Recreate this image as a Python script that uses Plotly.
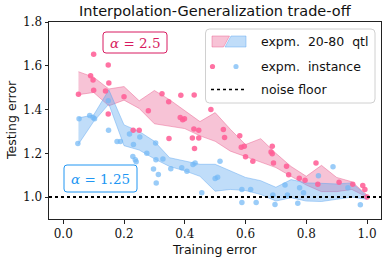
import plotly.graph_objects as go

# ---------------- data ----------------
BAND_X = [0.05, 0.10, 0.15, 0.20, 0.25, 0.30, 0.35, 0.40, 0.45, 0.50,
          0.55, 0.60, 0.65, 0.70, 0.75, 0.80, 0.85, 0.90, 0.95, 1.00]
PINK_UP = [1.573, 1.548, 1.494, 1.505, 1.440, 1.487, 1.445, 1.395, 1.345, 1.386,
           1.310, 1.240, 1.267, 1.200, 1.140, 1.095, 1.145, 1.090, 1.070, 1.010]
PINK_LO = [1.468, 1.478, 1.417, 1.443, 1.405, 1.335, 1.323, 1.313, 1.280, 1.255,
           1.210, 1.185, 1.160, 1.135, 1.095, 1.055, 1.025, 1.025, 1.035, 1.000]
BLUE_UP = [1.362, 1.375, 1.490, 1.330, 1.300, 1.255, 1.180, 1.165, 1.150, 1.150,
           1.120, 1.090, 1.075, 1.045, 1.080, 1.065, 1.063, 1.060, 1.065, 1.005]
BLUE_LO = [1.242, 1.345, 1.425, 1.235, 1.215, 1.175, 1.140, 1.120, 1.095, 1.027,
           1.035, 1.030, 1.012, 0.982, 0.997, 0.982, 0.980, 0.990, 1.000, 0.990]

PINK_X = [0.05, 0.09, 0.098, 0.10, 0.10, 0.139, 0.148, 0.15, 0.148, 0.20, 0.23, 0.25,
          0.28, 0.325, 0.347, 0.348, 0.385, 0.393, 0.399, 0.387, 0.431, 0.43, 0.446,
          0.425, 0.446, 0.432, 0.486, 0.527, 0.531, 0.581, 0.586, 0.596, 0.60, 0.624,
          0.688, 0.684, 0.688, 0.692, 0.735, 0.742, 0.777, 0.796, 0.832, 0.838, 0.908,
          0.953, 0.986, 0.993, 1.0]
PINK_Y = [1.47, 1.555, 1.535, 1.653, 1.488, 1.485, 1.603, 1.521, 1.38, 1.458, 1.305,
          1.305, 1.394, 1.472, 1.436, 1.268, 1.364, 1.353, 1.358, 1.465, 1.467, 1.311,
          1.305, 1.270, 1.27, 1.222, 1.40, 1.309, 1.272, 1.28, 1.228, 1.232, 1.184,
          1.164, 1.232, 1.206, 1.198, 1.156, 1.141, 1.102, 1.086, 1.077, 1.156, 1.059,
          1.068, 1.059, 1.053, 1.035, 1.0]
BLUE_X = [0.048, 0.052, 0.087, 0.098, 0.103, 0.148, 0.149, 0.177, 0.188, 0.218, 0.229,
          0.237, 0.24, 0.231, 0.252, 0.275, 0.304, 0.305, 0.297, 0.313, 0.306, 0.328,
          0.354, 0.39, 0.407, 0.427, 0.434, 0.456, 0.50, 0.508, 0.516, 0.588, 0.617,
          0.588, 0.635, 0.69, 0.697, 0.73, 0.738, 0.772, 0.778, 0.791, 0.84, 0.888,
          0.937, 0.978]
BLUE_Y = [1.245, 1.358, 1.373, 1.364, 1.358, 1.44, 1.305, 1.254, 1.254, 1.288, 1.186,
          1.171, 1.161, 1.24, 1.275, 1.2, 1.247, 1.171, 1.128, 1.103, 1.065, 1.174,
          1.129, 1.134, 1.118, 1.149, 1.156, 1.02, 1.085, 1.091, 1.164, 1.035, 1.035,
          0.975, 0.975, 1.01, 0.966, 1.055, 1.01, 0.972, 1.043, 1.02, 1.098, 1.139,
          1.043, 0.965]
NOISE_FLOOR = 1.0

X_TICKS = [0.0, 0.2, 0.4, 0.6, 0.8, 1.0]
X_TICK_TEXT = ["0.0", "0.2", "0.4", "0.6", "0.8", "1.0"]
Y_TICKS = [1.0, 1.2, 1.4, 1.6, 1.8]
Y_TICK_TEXT = ["1.0", "1.2", "1.4", "1.6", "1.8"]

TITLE = "Interpolation-Generalization trade-off"
X_LABEL = "Training error"
Y_LABEL = "Testing error"
LEG_LABELS = ["expm.  20-80  qtl", "expm.  instance", "noise floor"]

# ---------------- styles ----------------
PINK_FILL = "rgba(232,90,140,0.36)"
PINK_EDGE = "rgba(232,90,140,0.45)"
BLUE_FILL = "rgba(90,165,240,0.38)"
BLUE_EDGE = "rgba(90,165,240,0.45)"
PINK_DOT = "rgba(255,95,150,0.88)"
BLUE_DOT = "rgba(115,185,245,0.72)"
PINK_TXT = "#d81b60"
BLUE_TXT = "#2196f3"
SANS = "DejaVu Sans"
SERIF = "DejaVu Serif"

W, H = 383, 263
L, R, T, B = 49, 381, 22, 219  # plot area in pixels


def px(x):
    return (x - L) / (R - L)


def py(y):
    return (B - y) / (B - T)


fig = go.Figure()

# quantile bands
fig.add_trace(go.Scatter(x=BAND_X + BAND_X[::-1], y=PINK_UP + PINK_LO[::-1],
                         fill="toself", fillcolor=PINK_FILL, mode="lines",
                         line=dict(color=PINK_EDGE, width=1), showlegend=False,
                         hoverinfo="skip"))
fig.add_trace(go.Scatter(x=BAND_X + BAND_X[::-1], y=BLUE_UP + BLUE_LO[::-1],
                         fill="toself", fillcolor=BLUE_FILL, mode="lines",
                         line=dict(color=BLUE_EDGE, width=1), showlegend=False,
                         hoverinfo="skip"))
# instances
fig.add_trace(go.Scatter(x=PINK_X, y=PINK_Y, mode="markers",
                         marker=dict(color=PINK_DOT, size=5.5, line=dict(width=0)),
                         showlegend=False))
fig.add_trace(go.Scatter(x=BLUE_X, y=BLUE_Y, mode="markers",
                         marker=dict(color=BLUE_DOT, size=5.5, line=dict(width=0)),
                         showlegend=False))

shapes = []
annotations = []

# noise floor
shapes.append(dict(type="line", xref="paper", x0=0, x1=1, yref="y",
                   y0=NOISE_FLOOR, y1=NOISE_FLOOR,
                   line=dict(color="black", width=2, dash="dot")))


def rounded_rect(x0, y0, x1, y1, r, **kw):
    # pixel coords -> paper path
    rx = r / (R - L)
    ry = r / (B - T)
    a, b, c, d = px(x0), py(y1), px(x1), py(y0)  # left, bottom, right, top
    path = (f"M {a+rx},{b} L {c-rx},{b} Q {c},{b} {c},{b+ry} "
            f"L {c},{d-ry} Q {c},{d} {c-rx},{d} L {a+rx},{d} "
            f"Q {a},{d} {a},{d-ry} L {a},{b+ry} Q {a},{b} {a+rx},{b} Z")
    return dict(type="path", xref="paper", yref="paper", path=path, **kw)


def poly(pts, **kw):
    path = "M " + " L ".join(f"{px(x)},{py(y)}" for x, y in pts) + " Z"
    return dict(type="path", xref="paper", yref="paper", path=path, **kw)


# legend box
shapes.append(rounded_rect(205.5, 29, 375, 103, 4, fillcolor="rgba(255,255,255,0.85)",
                           line=dict(color="#d0d0d0", width=1), layer="above"))
shapes.append(poly([(212, 36), (229.5, 36), (223.5, 47), (212, 47)],
                   fillcolor=PINK_FILL, line=dict(color=PINK_EDGE, width=1), layer="above"))
shapes.append(poly([(231, 36), (246, 36), (246, 47), (225, 47)],
                   fillcolor=BLUE_FILL, line=dict(color=BLUE_EDGE, width=1), layer="above"))
for cx, col in [(212.5, PINK_DOT), (236, BLUE_DOT)]:
    shapes.append(dict(type="circle", xref="paper", yref="paper",
                       x0=px(cx - 2.6), x1=px(cx + 2.6), y0=py(66.5 + 2.6), y1=py(66.5 - 2.6),
                       fillcolor=col, line=dict(width=0), layer="above"))
shapes.append(dict(type="line", xref="paper", yref="paper", x0=px(211), x1=px(246),
                   y0=py(89.5), y1=py(89.5), line=dict(color="black", width=1.5, dash="dot"),
                   layer="above"))
for txt, yy in zip(LEG_LABELS, [42, 66, 89]):
    annotations.append(dict(text=txt, xref="paper", yref="paper", x=px(258.5), y=py(yy),
                            xanchor="left", yanchor="middle", showarrow=False,
                            font=dict(family=SANS, size=12.5, color="#111")))

# alpha boxes
shapes.append(rounded_rect(103, 32, 167, 53, 3, fillcolor="white",
                           line=dict(color=PINK_TXT, width=1), layer="above"))
annotations.append(dict(text="<i>α</i> = 2.5", xref="paper", yref="paper",
                        x=px(135), y=py(42.5), xanchor="center", yanchor="middle",
                        showarrow=False, font=dict(family=SERIF, size=13.5, color=PINK_TXT)))
shapes.append(rounded_rect(64, 165, 137, 192, 3, fillcolor="white",
                           line=dict(color=BLUE_TXT, width=1), layer="above"))
annotations.append(dict(text="<i>α</i> = 1.25", xref="paper", yref="paper",
                        x=px(100.5), y=py(178.5), xanchor="center", yanchor="middle",
                        showarrow=False, font=dict(family=SERIF, size=13.5, color=BLUE_TXT)))

# axis labels & title
annotations.append(dict(text=TITLE, xref="paper", yref="paper", x=px(215), y=py(11),
                        xanchor="center", yanchor="middle", showarrow=False,
                        font=dict(family=SANS, size=14.5, color="#111")))
annotations.append(dict(text=X_LABEL, xref="paper", yref="paper", x=px(214), y=py(250),
                        xanchor="center", yanchor="middle", showarrow=False,
                        font=dict(family=SANS, size=12.5, color="#111")))
annotations.append(dict(text=Y_LABEL, xref="paper", yref="paper", x=px(11), y=py(120),
                        xanchor="center", yanchor="middle", showarrow=False, textangle=-90,
                        font=dict(family=SANS, size=12.5, color="#111")))

axis_common = dict(showgrid=False, zeroline=False, showline=True, linecolor="#222",
                   linewidth=1, mirror=True, ticks="outside", ticklen=3.5, tickwidth=1,
                   tickcolor="#222", tickfont=dict(family=SERIF, size=12, color="#111"))
fig.update_layout(
    width=W, height=H,
    margin=dict(l=L, r=W - R, t=T, b=H - B, pad=0),
    paper_bgcolor="white", plot_bgcolor="white",
    showlegend=False,
    xaxis=dict(range=[-0.047, 1.046], tickvals=X_TICKS, ticktext=X_TICK_TEXT, **axis_common),
    yaxis=dict(range=[0.9, 1.8], tickvals=Y_TICKS, ticktext=Y_TICK_TEXT, **axis_common),
    shapes=shapes, annotations=annotations,
)

fig.write_html("out.html", config={"displayModeBar": False},
               post_script="document.body.style.margin='0';document.body.style.padding='0';")
